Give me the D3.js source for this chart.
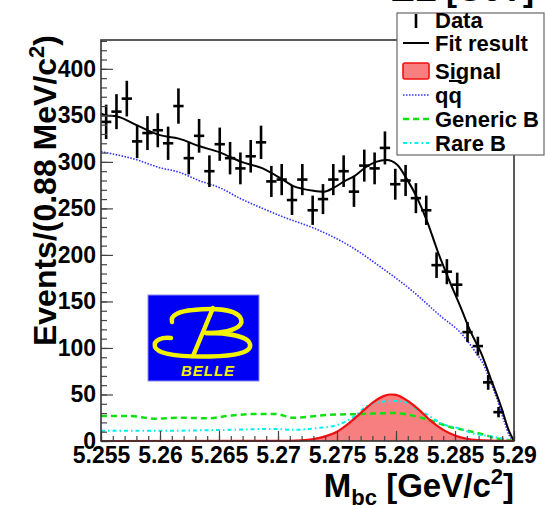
<!DOCTYPE html>
<html>
<head>
<meta charset="utf-8">
<script src="https://cdn.jsdelivr.net/npm/d3@7"></script>
<style>
  body { margin: 0; background: #fff; }
  text { font-family: "Liberation Sans", Arial, sans-serif; font-weight: bold; }
</style>
</head>
<body>
<div id="chart"></div>
<script>
// histogram: 40 bins of 0.875 MeV between 5.255 and 5.29
var binLow = 5.255;
var binWidth = 0.000875;
var counts = [343, 354, 368, 322, 331, 334, 320, 360, 304, 328,
              290, 319, 304, 293, 306, 321, 279, 281, 259, 281,
              248, 260, 281, 290, 268, 296, 293, 315, 276, 280,
              261, 248, 189, 182, 168, 117, 102, 63, 31];

// fit result (total)
var fitX = [5.255, 5.2554, 5.2563, 5.2581, 5.2599, 5.2616, 5.2633, 5.2651, 5.2669, 5.2687,
            5.2704, 5.2713, 5.2721, 5.2730, 5.2739, 5.2747, 5.2756, 5.2765, 5.2774, 5.2783,
            5.2792, 5.2801, 5.2809, 5.2818, 5.2827, 5.2835, 5.2844, 5.2855, 5.2863, 5.2872,
            5.2880, 5.2889, 5.2896, 5.29];
var fitY = [352, 350, 349, 339, 329, 325, 317, 310, 300, 293,
            281, 274, 271, 269, 268, 272, 279, 285, 294, 300,
            302, 297, 282, 261, 234, 205, 176, 143, 118, 95,
            68, 37, 10, 0];

// qq continuum
var qqX = [5.255, 5.2554, 5.2581, 5.2599, 5.2616, 5.2633, 5.2651, 5.2669, 5.2687, 5.2704,
           5.2730, 5.2759, 5.2787, 5.2815, 5.2838, 5.2855, 5.2866, 5.2875, 5.2880, 5.2886,
           5.2892, 5.2896, 5.29];
var qqY = [311, 310, 302, 294, 289, 280, 272, 260, 250, 241,
           229, 211, 187, 160, 134, 116, 98, 80, 64, 44,
           20, 6, 0];

// generic B
var genX = [5.255, 5.2573, 5.2596, 5.2615, 5.2641, 5.2658, 5.2681, 5.2698, 5.2713, 5.2742,
            5.2770, 5.2798, 5.2827, 5.2849, 5.2855, 5.2878, 5.2883, 5.2897, 5.29];
var genY = [27, 27, 24, 25, 24.5, 27, 29, 29, 25, 28,
            29, 30, 23, 14, 12.5, 5.5, 3.5, 0.5, 0];

// rare B
var rareX = [5.255, 5.2602, 5.2658, 5.2698, 5.2713, 5.2734, 5.2750, 5.2764, 5.2776, 5.2787,
             5.2798, 5.2810, 5.2818, 5.2827, 5.2838, 5.2855, 5.2863, 5.2883, 5.2896, 5.29];
var rareY = [11, 11, 12, 13, 12, 14, 17, 26, 38, 42,
             43, 41, 34, 28, 19, 13, 9, 4.5, 1, 0];

// signal
var sigX = [5.255, 5.270, 5.272, 5.273, 5.274, 5.275, 5.276, 5.277, 5.278, 5.279,
            5.2796, 5.280, 5.281, 5.282, 5.283, 5.284, 5.285, 5.286, 5.287, 5.288, 5.29];
var sigY = [0, 0.1, 0.7, 2, 5, 10, 19, 30, 41, 48.5,
            50, 49.5, 43, 33, 21, 12, 6, 2.4, 0.9, 0.3, 0];

var xTicks = ["5.255", "5.26", "5.265", "5.27", "5.275", "5.28", "5.285", "5.29"];
var yTicks = [0, 50, 100, 150, 200, 250, 300, 350, 400];

var legendLabels = ["Data", "Fit result", "Signal", "qq", "Generic B", "Rare B"];

//canvas
var W = 546, H = 505;
var svg = d3.select("#chart").append("svg")
        .attr("width", W)
        .attr("height", H);

var x = d3.scaleLinear().domain([5.255, 5.29]).range([101, 514]);
var y = d3.scaleLinear().domain([0, 431]).range([441, 40]);

//title of the panel above, cut by the top edge
svg.append("text")
    .attr("x", 534).attr("y", 1)
    .attr("text-anchor", "end")
    .attr("font-size", 33)
    .text("ΔE [GeV]");

var line = function(xs, ys) {
    return d3.line()
        .x(function(d, i) { return x(xs[i]); })
        .y(function(d) { return y(d); })
        .curve(d3.curveMonotoneX)(ys);
};

var plot = svg.append("g");

//signal area
plot.append("path")
    .attr("d", d3.area()
        .x(function(d, i) { return x(sigX[i]); })
        .y0(y(0))
        .y1(function(d) { return y(d); })
        .curve(d3.curveMonotoneX)(sigY))
    .attr("fill", "#f77f7f");

//belle logo
var logo = svg.append("g").attr("transform", "translate(148,295)");
logo.append("rect")
    .attr("width", 111).attr("height", 86)
    .attr("fill", "#0000f5")
    .attr("stroke", "#8a8af0").attr("stroke-width", 1);
var B = logo.append("g")
    .attr("fill", "none")
    .attr("stroke", "#f2f200")
    .attr("stroke-width", 4.5)
    .attr("stroke-linecap", "round");
B.append("path")
    .attr("d", "M24,27 C22,20 32,16 45,15 C65,13 86,14 92,22 C97,30 88,35 74,37 C68,38 62,38 58,38");
B.append("path")
    .attr("d", "M58,38 C80,38 100,41 102,49 C104,58 86,61 62,61.5 C35,62 10,60 7,52 C5,45 14,42 23,43");
B.append("path")
    .attr("d", "M65,13 L45,61");
logo.append("text")
    .attr("x", 60).attr("y", 81)
    .attr("text-anchor", "middle")
    .attr("font-size", 15)
    .attr("font-style", "italic")
    .attr("font-weight", "normal")
    .attr("fill", "#f2f200")
    .attr("letter-spacing", 1)
    .text("BELLE");

//component curves
plot.append("path")
    .attr("d", line(qqX, qqY))
    .attr("fill", "none").attr("stroke", "#3030ff")
    .attr("stroke-width", 1.6).attr("stroke-dasharray", "1.5,1.5");
plot.append("path")
    .attr("d", line(genX, genY))
    .attr("fill", "none").attr("stroke", "#11e011")
    .attr("stroke-width", 2.5).attr("stroke-dasharray", "6,4");
plot.append("path")
    .attr("d", line(rareX, rareY))
    .attr("fill", "none").attr("stroke", "#00f0f0")
    .attr("stroke-width", 2).attr("stroke-dasharray", "4,3,1.5,3");
plot.append("path")
    .attr("d", line(sigX, sigY))
    .attr("fill", "none").attr("stroke", "#f01010")
    .attr("stroke-width", 2.2);

//axes (ticks point inward)
var xMajor = d3.range(8).map(function(i) { return 5.255 + i * 0.005; });
var xMinor = d3.range(36).map(function(i) { return 5.255 + i * 0.001; });
var yMinor = d3.range(44).map(function(i) { return i * 10; });

svg.append("g")
    .attr("transform", "translate(0,441)")
    .call(d3.axisBottom(x).tickValues(xMinor).tickSize(-5).tickFormat(""))
    .call(function(g) { g.select(".domain").remove(); });
svg.append("g")
    .attr("transform", "translate(0,441)")
    .call(d3.axisBottom(x).tickValues(xMajor).tickSize(-10).tickPadding(6)
        .tickFormat(function(d, i) { return xTicks[i]; }))
    .call(function(g) {
        g.select(".domain").remove();
        g.selectAll("text").attr("font-size", 23).attr("fill", "#000");
    });

svg.append("g")
    .attr("transform", "translate(101,0)")
    .call(d3.axisLeft(y).tickValues(yMinor).tickSize(-6).tickFormat(""))
    .call(function(g) { g.select(".domain").remove(); });
svg.append("g")
    .attr("transform", "translate(101,0)")
    .call(d3.axisLeft(y).tickValues(yTicks).tickSize(-12).tickPadding(5))
    .call(function(g) {
        g.select(".domain").remove();
        g.selectAll("text").attr("font-size", 23).attr("fill", "#000");
    });
svg.selectAll(".tick line").attr("stroke", "#444").attr("stroke-width", 1.2);

//data points with sqrt(N) errors
var pts = plot.selectAll(".pt")
    .data(counts)
    .enter()
    .append("g")
    .attr("class", "pt");
pts.append("line")
    .attr("x1", function(d, i) { return x(binLow + (i + 0.5) * binWidth); })
    .attr("x2", function(d, i) { return x(binLow + (i + 0.5) * binWidth); })
    .attr("y1", function(d) { return y(d - Math.sqrt(d)); })
    .attr("y2", function(d) { return y(d + Math.sqrt(d)); })
    .attr("stroke", "#000").attr("stroke-width", 2.6);
pts.append("line")
    .attr("x1", function(d, i) { return x(binLow + i * binWidth); })
    .attr("x2", function(d, i) { return x(binLow + (i + 1) * binWidth); })
    .attr("y1", function(d) { return y(d); })
    .attr("y2", function(d) { return y(d); })
    .attr("stroke", "#000").attr("stroke-width", 2.6);

//fit
plot.append("path")
    .attr("d", line(fitX, fitY))
    .attr("fill", "none").attr("stroke", "#000")
    .attr("stroke-width", 2);

//frame
svg.append("rect")
    .attr("x", 101).attr("y", 40)
    .attr("width", 413).attr("height", 401)
    .attr("fill", "none")
    .attr("stroke", "#333").attr("stroke-width", 1.6);

//axis titles
var yt = svg.append("text")
    .attr("transform", "translate(56,35) rotate(-90)")
    .attr("text-anchor", "end")
    .attr("font-size", 32);
yt.append("tspan").text("Events/(0.88 MeV/c");
yt.append("tspan").attr("dy", -12).attr("font-size", 22).text("2");
yt.append("tspan").attr("dy", 12).text(")");

var xt = svg.append("text")
    .attr("x", 514).attr("y", 497)
    .attr("text-anchor", "end")
    .attr("font-size", 33);
xt.append("tspan").text("M");
xt.append("tspan").attr("dy", 8).attr("font-size", 22).text("bc");
xt.append("tspan").attr("dy", -8).text(" [GeV/c");
xt.append("tspan").attr("dy", -13).attr("font-size", 22).text("2");
xt.append("tspan").attr("dy", 13).text("]");

//legend
var leg = svg.append("g");
leg.append("rect")
    .attr("x", 397).attr("y", 13)
    .attr("width", 147).attr("height", 142)
    .attr("fill", "#fff")
    .attr("stroke", "#666").attr("stroke-width", 1.2);
var rowY = [20, 43, 71, 95, 119, 143];
leg.selectAll(".lab")
    .data(legendLabels)
    .enter()
    .append("text")
    .attr("class", "lab")
    .attr("x", 435)
    .attr("y", function(d, i) { return rowY[i]; })
    .attr("dy", "0.36em")
    .attr("font-size", 22)
    .text(function(d) { return d; });
// overline on the second q
var qq = leg.selectAll(".lab").filter(function(d) { return d === "qq"; }).node();
var q1 = qq.getSubStringLength(0, 1), q2 = qq.getSubStringLength(1, 1);
leg.append("line")
    .attr("x1", 435 + q1 + 0.5).attr("x2", 435 + q1 + q2 - 0.5)
    .attr("y1", 81).attr("y2", 81)
    .attr("stroke", "#000").attr("stroke-width", 2);

leg.append("line")
    .attr("x1", 416).attr("x2", 416).attr("y1", 14).attr("y2", 28)
    .attr("stroke", "#000").attr("stroke-width", 2.6);
leg.append("line")
    .attr("x1", 403).attr("x2", 429).attr("y1", 43).attr("y2", 43)
    .attr("stroke", "#000").attr("stroke-width", 2);
leg.append("rect")
    .attr("x", 403).attr("y", 63).attr("width", 26).attr("height", 16)
    .attr("rx", 2)
    .attr("fill", "#f77f7f").attr("stroke", "#f01010").attr("stroke-width", 1.6);
leg.append("line")
    .attr("x1", 403).attr("x2", 429).attr("y1", 95).attr("y2", 95)
    .attr("stroke", "#3030ff").attr("stroke-width", 1.6).attr("stroke-dasharray", "1.5,1.5");
leg.append("line")
    .attr("x1", 403).attr("x2", 429).attr("y1", 119).attr("y2", 119)
    .attr("stroke", "#11e011").attr("stroke-width", 2.5).attr("stroke-dasharray", "6,4");
leg.append("line")
    .attr("x1", 403).attr("x2", 429).attr("y1", 143).attr("y2", 143)
    .attr("stroke", "#00f0f0").attr("stroke-width", 2).attr("stroke-dasharray", "4,3,1.5,3");
</script>
</body>
</html>
